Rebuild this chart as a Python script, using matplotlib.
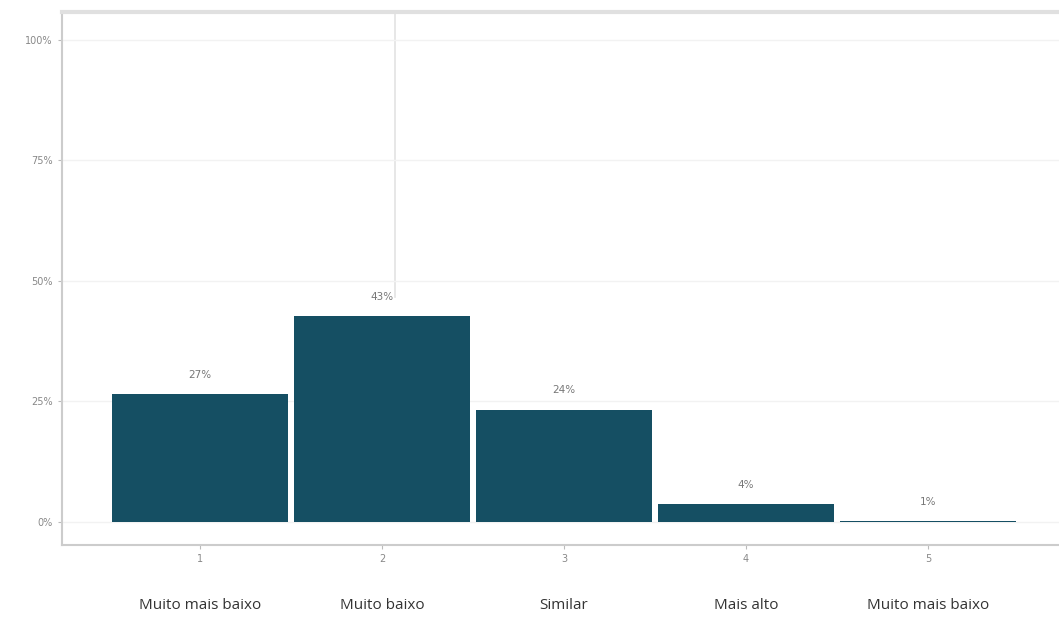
import matplotlib.pyplot as plt

# dados
positions = [1, 2, 3, 4, 5]
shares = [26.5, 42.7, 23.3, 3.7, 0.1]
value_labels = ["27%", "43%", "24%", "4%", "1%"]
tick_labels = ["1", "2", "3", "4", "5"]
categories = ["Muito mais baixo", "Muito baixo", "Similar", "Mais alto", "Muito mais baixo"]
y_ticks = [0, 25, 50, 75, 100]
y_tick_labels = ["0%", "25%", "50%", "75%", "100%"]

bar_color = "#154f63"

fig = plt.figure(figsize=(10.59, 6.18), dpi=100)
ax = fig.add_axes([0.0585, 0.118, 0.9415, 0.8625])

ax.bar(positions, shares, width=0.97, color=bar_color, zorder=3)

for x, v, lab in zip(positions, shares, value_labels):
    ax.text(x, v + 3.0, lab, ha="center", va="bottom", fontsize=7.5, color="#777777")

ax.set_xlim(0.24, 5.72)
ax.set_ylim(-4.8, 105.8)
ax.set_xticks(positions)
ax.set_xticklabels(tick_labels)
ax.set_yticks(y_ticks)
ax.set_yticklabels(y_tick_labels)
ax.tick_params(axis="both", labelsize=7, colors="#888888", length=3, color="#bbbbbb")

ax.grid(axis="y", color="#f2f2f2", linewidth=1, zorder=0)
# linha vertical clara que aparece no original
ax.axvline(2.07, ymin=0.465, ymax=1.0, color="#e3e3e3", linewidth=1.2, zorder=1)

for side in ["left", "bottom"]:
    ax.spines[side].set_color("#cccccc")
    ax.spines[side].set_linewidth(1.5)
ax.spines["top"].set_color("#e0e0e0")
ax.spines["top"].set_linewidth(3)
ax.spines["right"].set_visible(False)

# nomes das categorias por baixo dos números
for x, name in zip(positions, categories):
    ax.text(x, -0.113, name, transform=ax.get_xaxis_transform(), ha="center", va="center",
            fontsize=11, color="#333333", family=["Open Sans", "DejaVu Sans"])

fig.savefig("out.png", dpi=100)
